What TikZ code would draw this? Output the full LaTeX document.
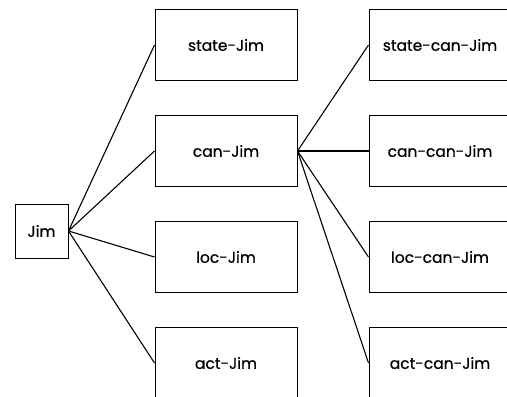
\documentclass[tikz,border=0pt]{standalone}
\usepackage{fontspec}
\setmainfont{Poppins}
\newfontfamily\boxfont{Poppins}[FakeBold=0.6]

\begin{document}
\begin{tikzpicture}
[x=1pt,y=-1pt,
  boxDecorate/.style={shape=rectangle,draw,line width=1pt,inner sep=0pt,%
    minimum width=142pt,minimum height=71pt,font=\boxfont\fontsize{15.5}{17}\selectfont},
  rootDecorate/.style={boxDecorate,minimum width=53pt,minimum height=54pt},
  lineDecorate/.style={-,line width=1.1pt}]
\useasboundingbox (0,0) rectangle (507,397);
%% root
\node (Jim) at (41.5,231) [rootDecorate] {Jim};
%% nodes or vertices
\foreach \nodename/\x/\y in {state-Jim/226/45, can-Jim/226/151, loc-Jim/226/257,
  act-Jim/226/363, state-can-Jim/440/45, can-can-Jim/440/151,
  loc-can-Jim/440/257, act-can-Jim/440/363}
{
  \node (\nodename) at (\x,\y) [boxDecorate] {\nodename};
}
%% edges or lines
\path
\foreach \startnode/\endnode in {Jim/state-Jim, Jim/can-Jim, Jim/loc-Jim,
  Jim/act-Jim, can-Jim/state-can-Jim, can-Jim/can-can-Jim,
  can-Jim/loc-can-Jim, can-Jim/act-can-Jim}
{
  (\startnode.east) edge[lineDecorate] (\endnode.west)
};
\end{tikzpicture}
\end{document}
